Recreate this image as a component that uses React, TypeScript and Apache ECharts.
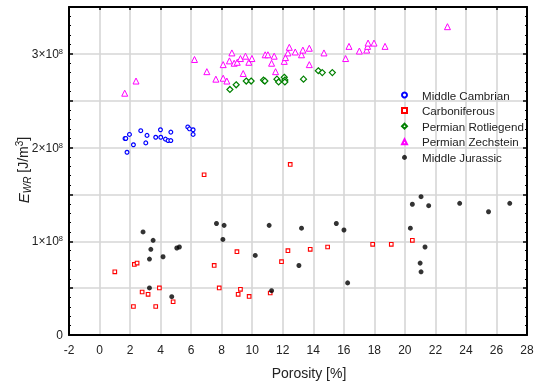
import React, { useEffect, useRef } from "react";
import * as echarts from "echarts";

const seriesNames = ["Middle Cambrian", "Carboniferous", "Permian Rotliegend", "Permian Zechstein", "Middle Jurassic"];

// [porosity %, E_WR in units of 1e8 J/m3]
const middleCambrian: number[][] = [
  [1.67, 2.097], [1.72, 2.097], [1.96, 2.14], [2.7, 2.18], [2.22, 2.03], [1.8, 1.95], [3.03, 2.05],
  [3.11, 2.13], [3.68, 2.11], [3.99, 2.19], [4.01, 2.11], [4.32, 2.09], [4.49, 2.075], [4.67, 2.075],
  [4.67, 2.165], [5.78, 2.22], [5.89, 2.2], [6.13, 2.19], [6.13, 2.14],
];
const carboniferous: number[][] = [
  [6.85, 1.71], [1.0, 0.674], [2.28, 0.753], [2.46, 0.767], [2.79, 0.459], [3.18, 0.434], [3.92, 0.502],
  [2.22, 0.304], [3.68, 0.304], [4.82, 0.355], [7.51, 0.742], [9.0, 0.889], [7.84, 0.502], [9.23, 0.487],
  [9.08, 0.434], [9.8, 0.412], [12.49, 1.82], [12.34, 0.9], [13.8, 0.914], [14.94, 0.939], [17.89, 0.968],
  [19.11, 0.968], [11.92, 0.782], [11.18, 0.448], [20.49, 1.01],
];
const permianRotliegend: number[][] = [
  [8.54, 2.62], [8.95, 2.67], [9.61, 2.71], [9.93, 2.71], [10.74, 2.72], [10.83, 2.71], [11.62, 2.73],
  [11.73, 2.7], [12.1, 2.75], [12.14, 2.72], [12.14, 2.7], [13.36, 2.73], [14.33, 2.82], [14.59, 2.8],
  [15.25, 2.8],
];
const permianZechstein: number[][] = [
  [2.39, 2.71], [1.65, 2.58], [6.22, 2.94], [7.03, 2.81], [7.62, 2.73], [8.1, 2.885], [8.1, 2.74],
  [8.34, 2.71], [8.51, 2.925], [8.67, 3.01], [8.82, 2.9], [9.02, 2.91], [9.23, 2.95], [9.41, 2.79],
  [9.56, 2.975], [9.78, 2.91], [9.98, 2.95], [10.85, 2.99], [11.03, 2.99], [11.27, 2.9], [11.44, 2.975],
  [11.53, 2.81], [12.1, 2.92], [12.18, 2.96], [12.34, 3.01], [12.43, 3.07], [12.82, 3.02], [13.23, 2.99],
  [13.32, 3.04], [13.74, 3.06], [13.74, 2.885], [14.7, 3.01], [16.12, 2.95], [16.34, 3.08], [17.02, 3.03],
  [17.5, 3.04], [17.56, 3.08], [17.59, 3.115], [17.98, 3.115], [18.7, 3.08], [22.79, 3.29],
];
const middleJurassic: number[][] = [
  [2.85, 1.1], [3.51, 1.01], [3.36, 0.914], [3.27, 0.81], [3.27, 0.502], [4.16, 0.835], [4.73, 0.409],
  [5.06, 0.928], [5.23, 0.939], [7.66, 1.19], [8.16, 1.17], [8.08, 1.02], [10.2, 0.849], [11.11, 1.17],
  [11.27, 0.473], [13.06, 0.742], [13.23, 1.14], [15.51, 1.19], [16.01, 1.12], [16.25, 0.556], [20.36, 1.14],
  [21.06, 1.476], [20.49, 1.395], [21.56, 1.38], [23.59, 1.405], [25.48, 1.315], [26.87, 1.405],
  [21.32, 0.939], [21.0, 0.767], [21.06, 0.674],
];

const xMin = -2;
const xMax = 28;
const xStep = 2;
const yMin = 0;
const yMax = 3.5e8;
const yStep = 0.5e8;

const scale = (d: number[][]) => d.map(([x, y]) => [x, y * 1e8]);

const FONT = "'Liberation Sans', Arial, sans-serif";

export default function App() {
  const ref = useRef<HTMLDivElement>(null);
  useEffect(() => {
    if (!ref.current) return;
    const chart = echarts.init(ref.current, undefined, { renderer: "svg" });
    const frame = { show: true, onZero: false, lineStyle: { color: "#000", width: 2 } };
    const yFormatter = (v: number) => {
      if (v === 0) return "0";
      const n = v / 1e8;
      if (Math.abs(n - Math.round(n)) > 1e-9) return "";
      return `{n|${Math.round(n)}×10}{s|8}`;
    };
    const styles = [
      { symbol: "circle", size: 3.8, color: "#0000ff", bw: 1.2, hollow: true },
      { symbol: "rect", size: 3.6, color: "#ff0000", bw: 1.1, hollow: true },
      { symbol: "diamond", size: 6, color: "#008000", bw: 1.2, hollow: true },
      { symbol: "triangle", size: 6, color: "#ff00ff", bw: 1, hollow: true },
      { symbol: "circle", size: 5, color: "#000000", bw: 0, hollow: false },
    ];
    const datasets = [middleCambrian, carboniferous, permianRotliegend, permianZechstein, middleJurassic];
    chart.setOption({
      animation: false,
      textStyle: { fontFamily: FONT },
      grid: { left: 69, right: 13, top: 7, bottom: 52 },
      legend: {
        orient: "vertical",
        left: 401,
        top: 89,
        padding: 0,
        itemWidth: 5,
        itemHeight: 5,
        itemGap: 3.6,
        data: seriesNames,
        textStyle: { fontFamily: FONT, fontSize: 11.6, color: "#222", padding: [0, 0, 0, 10] },
      },
      xAxis: [
        {
          type: "value", min: xMin, max: xMax, interval: xStep, position: "bottom",
          axisLine: frame, axisTick: { show: false },
          axisLabel: { fontFamily: FONT, fontSize: 12, color: "#222", margin: 9 },
          splitLine: { show: true, lineStyle: { color: "#d6d6d6", width: 1.6 } },
        },
        {
          type: "value", min: xMin, max: xMax, interval: xStep, position: "top",
          axisLine: frame, axisTick: { show: true, inside: true, length: 3, lineStyle: { color: "#000", width: 1.5 } },
          axisLabel: { show: false }, splitLine: { show: false },
        },
      ],
      yAxis: [
        {
          type: "value", min: yMin, max: yMax, interval: yStep, position: "left",
          axisLine: frame,
          axisTick: { show: true, inside: true, length: 4, lineStyle: { color: "#000", width: 1.5 } },
          minorTick: { show: true, splitNumber: 5, length: 2, lineStyle: { color: "#000", width: 1 } },
          axisLabel: {
            fontFamily: FONT, fontSize: 12, color: "#222", margin: 6, formatter: yFormatter,
            rich: {
              n: { fontFamily: FONT, fontSize: 12, color: "#222" },
              s: { fontFamily: FONT, fontSize: 7.5, color: "#222", verticalAlign: "top", padding: [0, 0, 5, 0] },
            },
          },
          splitLine: { show: true, lineStyle: { color: "#d6d6d6", width: 1.6 } },
        },
        {
          type: "value", min: yMin, max: yMax, interval: yStep, position: "right",
          axisLine: frame,
          axisTick: { show: true, inside: true, length: 4, lineStyle: { color: "#000", width: 1.5 } },
          minorTick: { show: true, splitNumber: 5, length: 2, lineStyle: { color: "#000", width: 1 } },
          axisLabel: { show: false }, splitLine: { show: false },
        },
      ],
      series: seriesNames.map((name, i) => ({
        name,
        type: "scatter",
        xAxisIndex: 0,
        yAxisIndex: 0,
        symbol: styles[i].symbol,
        symbolSize: styles[i].size,
        itemStyle: styles[i].hollow
          ? { color: "#ffffff", borderColor: styles[i].color, borderWidth: styles[i].bw, opacity: 1 }
          : { color: styles[i].color },
        data: scale(datasets[i]),
      })),
      graphic: [
        {
          type: "text", x: 309, y: 373,
          style: { text: "Porosity [%]", font: `14px ${FONT}`, fill: "#222", textAlign: "center", textVerticalAlign: "middle" },
        },
        {
          type: "text", x: 23, y: 170, rotation: Math.PI / 2,
          style: {
            text: "{e|E}{sub|WR}{t| [J/m}{sup|3}{t|]}",
            textAlign: "center", textVerticalAlign: "middle",
            rich: {
              e: { fontFamily: FONT, fontSize: 15, fontStyle: "italic", fill: "#222", lineHeight: 18, verticalAlign: "middle" },
              sub: { fontFamily: FONT, fontSize: 10, fontStyle: "italic", fill: "#222", lineHeight: 18, verticalAlign: "bottom" },
              t: { fontFamily: FONT, fontSize: 14, fill: "#222", lineHeight: 18, verticalAlign: "middle" },
              sup: { fontFamily: FONT, fontSize: 10, fill: "#222", lineHeight: 18, verticalAlign: "top" },
            },
          },
        },
      ],
    });
    return () => chart.dispose();
  }, []);
  return <div ref={ref} style={{ position: "fixed", left: 0, top: 0, width: 540, height: 387 }} />;
}
